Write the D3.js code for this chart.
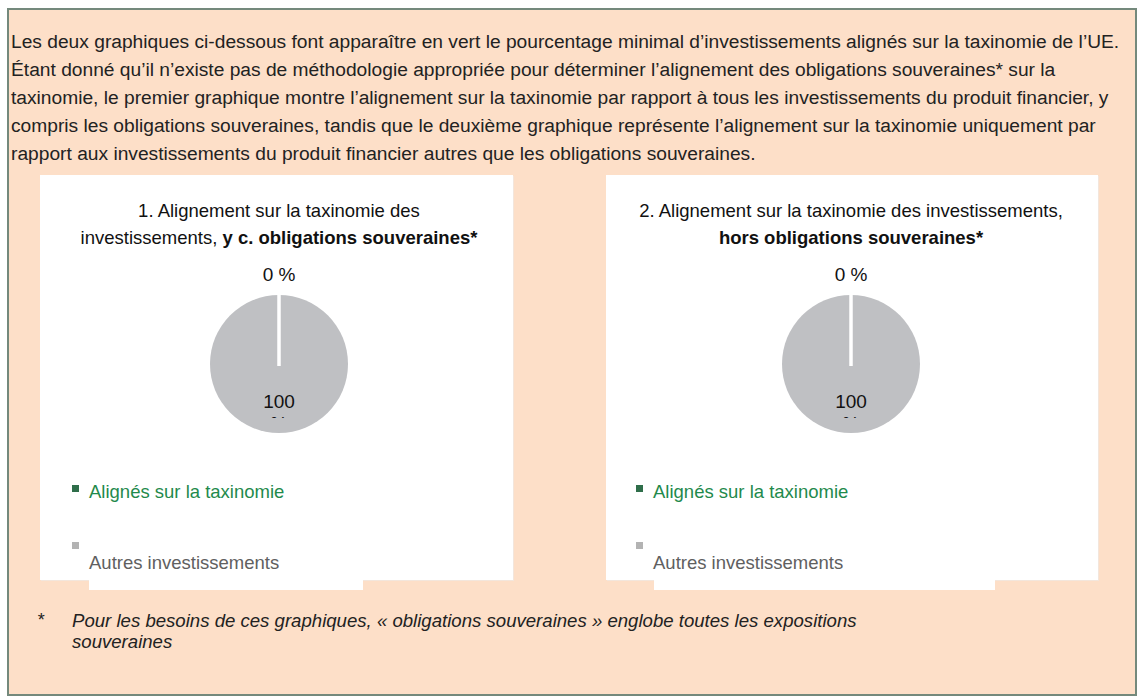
<!DOCTYPE html>
<html>
<head>
<meta charset="utf-8">
<script src="https://cdn.jsdelivr.net/npm/d3@7"></script>
<style>
  body { margin: 0; background: #fff; }
  svg { display: block; font-family: "Liberation Sans", Arial, sans-serif; }
</style>
</head>
<body>
<svg></svg>
<script>
// data
const categories = ["Alignés sur la taxinomie", "Autres investissements"];
const valuesWithSov = [0, 100];
const valuesExclSov = [0, 100];
const sliceColors = ["#2f6e4a", "#bfc0c3"];
const legendTextColors = ["#1f8a4c", "#606060"];

const introLines = [
  "Les deux graphiques ci-dessous font apparaître en vert le pourcentage minimal d’investissements alignés sur la taxinomie de l’UE.",
  "Étant donné qu’il n’existe pas de méthodologie appropriée pour déterminer l’alignement des obligations souveraines* sur la",
  "taxinomie, le premier graphique montre l’alignement sur la taxinomie par rapport à tous les investissements du produit financier, y",
  "compris les obligations souveraines, tandis que le deuxième graphique représente l’alignement sur la taxinomie uniquement par",
  "rapport aux investissements du produit financier autres que les obligations souveraines."
];
const footnoteLines = [
  "Pour les besoins de ces graphiques, « obligations souveraines » englobe toutes les expositions",
  "souveraines"
];

const width = 1141;
const height = 698;

const svg = d3.select("svg")
  .attr("width", width)
  .attr("height", height);

// outer box
svg.append("rect")
  .attr("x", 8).attr("y", 9)
  .attr("width", 1128).attr("height", 686)
  .attr("fill", "#fddfc8")
  .attr("stroke", "#74897c")
  .attr("stroke-width", 2);

svg.append("g")
  .selectAll("text")
  .data(introLines)
  .join("text")
    .attr("x", 11)
    .attr("y", (d, i) => 48 + i * 28)
    .attr("font-size", 19.2)
    .attr("fill", "#222")
    .text(d => d);

const charts = [
  {
    x: 40, w: 473, values: valuesWithSov, cx: 279,
    title: [[{t: "1. Alignement sur la taxinomie des", b: false}],
            [{t: "investissements, ", b: false}, {t: "y c. obligations souveraines*", b: true}]],
    legendX: 72, stripX: 89, stripW: 274
  },
  {
    x: 606, w: 492, values: valuesExclSov, cx: 851,
    title: [[{t: "2. Alignement sur la taxinomie des investissements,", b: false}],
            [{t: "hors obligations souveraines*", b: true}]],
    legendX: 636, stripX: 654, stripW: 341
  }
];

const radius = 69;
const cy = 364;
const pie = d3.pie().sort(null).value(d => d);
const arc = d3.arc().innerRadius(0).outerRadius(radius);
const insideArc = d3.arc().innerRadius(0).outerRadius(radius);
const outsideArc = d3.arc().innerRadius(radius + 21).outerRadius(radius + 21);

charts.forEach((c, ci) => {
  const panel = svg.append("g");

  // light shadow + white panel
  panel.append("rect")
    .attr("x", c.x + 1).attr("y", 176)
    .attr("width", c.w).attr("height", 405)
    .attr("fill", "#f3e6dc");
  panel.append("rect")
    .attr("x", c.x).attr("y", 175)
    .attr("width", c.w).attr("height", 405)
    .attr("fill", "#fff");
  panel.append("rect")
    .attr("x", c.stripX).attr("y", 575)
    .attr("width", c.stripW).attr("height", 15)
    .attr("fill", "#fff");

  const title = panel.append("text")
    .attr("text-anchor", "middle")
    .attr("font-size", 18.5)
    .attr("fill", "#111");
  c.title.forEach((line, li) => {
    line.forEach((part, pi) => {
      const ts = title.append("tspan")
        .attr("font-weight", part.b ? "bold" : "normal")
        .text(part.t);
      if (pi === 0) ts.attr("x", c.cx).attr("y", 217 + li * 27);
    });
  });

  const arcs = pie(c.values);
  const g = panel.append("g")
    .attr("transform", `translate(${c.cx},${cy})`);

  g.selectAll("path.slice")
    .data(arcs)
    .join("path")
      .attr("class", "slice")
      .attr("d", arc)
      .attr("fill", (d, i) => sliceColors[i]);

  // white separators between slices (also shows the 0 % slice)
  g.selectAll("line.sep")
    .data(arcs)
    .join("line")
      .attr("class", "sep")
      .attr("x1", 0).attr("y1", 2)
      .attr("x2", d => d3.pointRadial(d.startAngle, radius + 1)[0])
      .attr("y2", d => d3.pointRadial(d.startAngle, radius + 1)[1])
      .attr("stroke", "#fff")
      .attr("stroke-width", 3);

  // the label box is cut just below the "100", as in the source
  const clipId = `clip${ci}`;
  g.append("clipPath").attr("id", clipId)
    .append("rect")
      .attr("x", -radius - 40).attr("y", -radius - 50)
      .attr("width", 2 * radius + 80).attr("height", radius + 50 + 54);

  const labels = g.append("g").attr("clip-path", `url(#${clipId})`)
    .selectAll("text")
    .data(arcs)
    .join("text")
      .attr("text-anchor", "middle")
      .attr("font-size", 19)
      .attr("fill", "#111")
      .attr("transform", d => {
        const p = d.value === 0 ? outsideArc.centroid(d) : insideArc.centroid(d);
        return `translate(${p})`;
      });

  labels.each(function(d) {
    const t = d3.select(this);
    if (d.value === 0) {
      t.append("tspan").attr("x", 0).attr("y", 7).text(`${d.value} %`);
    } else {
      t.append("tspan").attr("x", 0).attr("y", 9).text(d.value);
      t.append("tspan").attr("x", 0).attr("y", 31).text("%");
    }
  });

  // legend
  const leg = panel.append("g");
  categories.forEach((cat, i) => {
    const ly = i === 0 ? 491 : 562;
    const sy = i === 0 ? 485 : 542;
    leg.append("rect")
      .attr("x", c.legendX).attr("y", sy)
      .attr("width", 7).attr("height", 7)
      .attr("fill", i === 0 ? sliceColors[0] : "#b3b3b3");
    leg.append("text")
      .attr("x", c.legendX + 17)
      .attr("y", ly + 7)
      .attr("font-size", 18.5)
      .attr("fill", legendTextColors[i])
      .text(cat);
  });
});

// footnote
svg.append("text")
  .attr("x", 37).attr("y", 626)
  .attr("font-size", 18)
  .attr("font-style", "italic")
  .attr("fill", "#222")
  .text("*");
svg.append("g")
  .selectAll("text")
  .data(footnoteLines)
  .join("text")
    .attr("x", 72)
    .attr("y", (d, i) => 627 + i * 21)
    .attr("font-size", 18.6)
    .attr("font-style", "italic")
    .attr("fill", "#222")
    .text(d => d);
</script>
</body>
</html>
